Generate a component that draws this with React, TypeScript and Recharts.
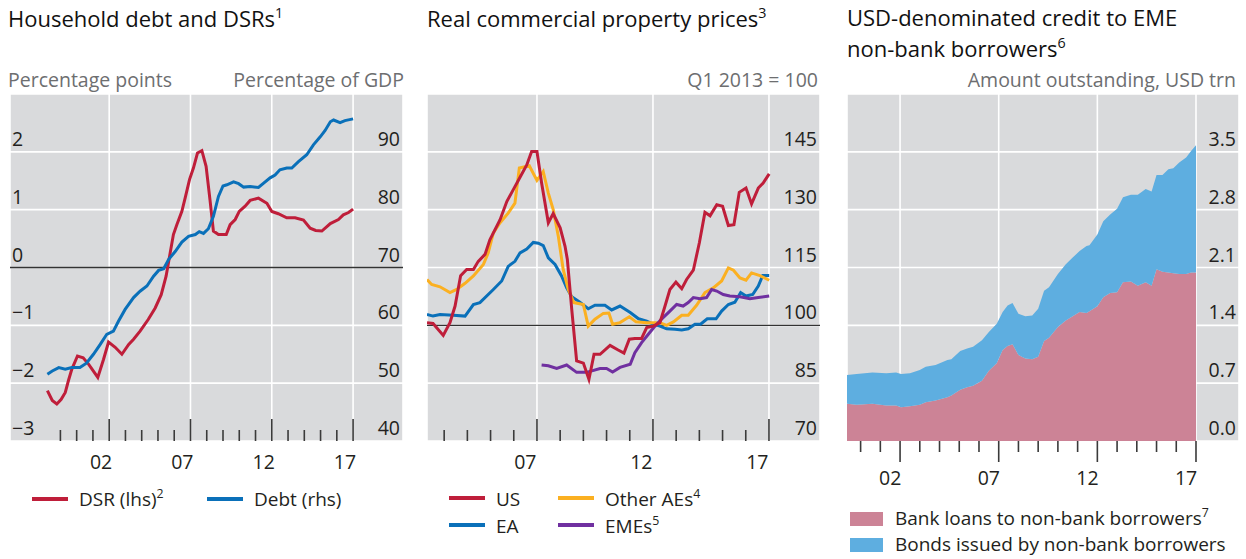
import React from 'react';
import { ComposedChart, AreaChart, Line, Area, XAxis, YAxis, CartesianGrid, ReferenceLine } from 'recharts';

const FONT = '"Open Sans", "Noto Sans", sans-serif';
const INK = '#231f20';
const SUB = '#6d6e70';
const BG = '#d9dadc';
const RED = '#bf1e3a';
const BLUE = '#0a70b9';
const ORANGE = '#fbb021';
const PURPLE = '#7030a0';
const PINK = '#cc8396';
const SKY = '#5eaee0';

// ---- panel 1: household debt and DSRs ----
const dsr = [
  [1998.2, -2.13], [1998.5, -2.3], [1998.78, -2.36], [1999.05, -2.28], [1999.3, -2.16], [1999.5, -1.95],
  [1999.7, -1.76], [2000.05, -1.53], [2000.4, -1.56], [2000.73, -1.67], [2001.03, -1.79], [2001.3, -1.9],
  [2001.65, -1.59], [2001.96, -1.29], [2002.37, -1.38], [2002.78, -1.5], [2003.2, -1.33], [2003.5, -1.24],
  [2003.9, -1.1], [2004.4, -0.9], [2004.83, -0.7], [2005.2, -0.47], [2005.5, -0.15], [2005.75, 0.25],
  [2005.95, 0.57], [2006.16, 0.74], [2006.47, 0.97], [2006.67, 1.2], [2006.94, 1.52], [2007.18, 1.72],
  [2007.43, 1.98], [2007.7, 2.02], [2007.96, 1.75], [2008.2, 1.17], [2008.41, 0.63], [2008.72, 0.57],
  [2009.2, 0.57], [2009.44, 0.74], [2009.75, 0.83], [2010.0, 0.97], [2010.36, 1.06], [2010.67, 1.16],
  [2011.18, 1.2], [2011.7, 1.11], [2012.0, 0.97], [2012.4, 0.93], [2012.92, 0.86], [2013.43, 0.86],
  [2013.95, 0.82], [2014.36, 0.68], [2014.7, 0.64], [2015.08, 0.63], [2015.6, 0.76], [2016.1, 0.83],
  [2016.4, 0.91], [2016.72, 0.95], [2017.0, 1.01],
];
const debt = [
  [1998.2, 51.55], [1998.5, 52.1], [1998.9, 52.7], [1999.3, 52.4], [1999.7, 52.7], [2000.2, 52.7],
  [2000.6, 53.45], [2001.03, 55.0], [2001.45, 56.7], [2001.85, 58.45], [2002.26, 59.0], [2002.57, 60.7],
  [2002.98, 62.75], [2003.5, 64.8], [2003.9, 65.9], [2004.32, 66.8], [2004.73, 68.5], [2005.04, 69.5],
  [2005.35, 69.8], [2005.66, 71.4], [2006.07, 72.8], [2006.47, 74.4], [2006.88, 75.4], [2007.3, 75.7],
  [2007.54, 76.2], [2007.8, 75.9], [2008.1, 76.7], [2008.41, 78.85], [2008.72, 82.3], [2009.0, 84.1],
  [2009.24, 84.3], [2009.65, 84.8], [2009.96, 84.5], [2010.27, 83.9], [2010.67, 84.0], [2011.18, 83.85],
  [2011.5, 84.6], [2011.9, 85.5], [2012.2, 86.0], [2012.5, 86.9], [2012.92, 87.2], [2013.23, 87.2],
  [2013.64, 88.3], [2014.15, 89.5], [2014.56, 91.2], [2014.98, 92.6], [2015.28, 93.7], [2015.6, 95.2],
  [2015.8, 95.5], [2016.2, 95.05], [2016.5, 95.4], [2017.0, 95.7],
];

// ---- panel 2: real commercial property prices ----
const us = [
  [2002.26, 100.7], [2002.52, 100.5], [2002.96, 97.4], [2003.25, 100.7], [2003.47, 105], [2003.71, 112.9],
  [2003.97, 114.5], [2004.26, 114.5], [2004.47, 116.6], [2004.76, 118.4], [2004.97, 122.2], [2005.41, 127.4],
  [2005.7, 132.1], [2005.98, 135.2], [2006.27, 138.4], [2006.56, 141.6], [2006.77, 145.1], [2007.0, 145.1],
  [2007.2, 136.9], [2007.49, 126.6], [2007.7, 129], [2008.0, 125.3], [2008.21, 120.5], [2008.31, 117.1],
  [2008.5, 104.1], [2008.71, 90.8], [2009.0, 90.2], [2009.24, 86.0], [2009.46, 92.5], [2009.72, 92.5],
  [2010.15, 94.8], [2010.5, 93.6], [2010.75, 92.8], [2010.98, 96.4], [2011.22, 96.6], [2011.51, 96.6],
  [2011.73, 99.4], [2012.01, 99.8], [2012.3, 100.7], [2012.52, 105], [2012.73, 109.3], [2012.99, 111.2],
  [2013.24, 109.5], [2013.45, 111.9], [2013.74, 114.3], [2014.0, 121.4], [2014.24, 129.3], [2014.46, 128.4],
  [2014.75, 131.3], [2015.0, 130.9], [2015.25, 125.9], [2015.49, 126.1], [2015.72, 134.5], [2016.01, 135.6],
  [2016.25, 131.5], [2016.54, 135.6], [2016.75, 136.9], [2017.01, 139.3],
];
const ea = [
  [2002.26, 102.8], [2002.52, 102.4], [2002.82, 102.8], [2003.39, 102.6], [2003.9, 102.4], [2004.26, 105.4],
  [2004.54, 105.9], [2005.12, 109.3], [2005.48, 111.5], [2005.76, 115.3], [2006.05, 116.6], [2006.27, 118.8],
  [2006.56, 119.8], [2006.84, 121.5], [2007.06, 121.3], [2007.27, 120.7], [2007.49, 117.5], [2007.78, 115.8],
  [2008.06, 112.8], [2008.28, 109.7], [2008.5, 107.4], [2008.85, 106], [2009.21, 104.3], [2009.5, 105.2],
  [2009.93, 105.2], [2010.22, 104], [2010.58, 105], [2011.02, 103.3], [2011.38, 101.7], [2011.73, 101.1],
  [2012.0, 100.3], [2012.3, 99.8], [2012.59, 99.1], [2012.95, 99], [2013.24, 98.8], [2013.52, 99.1],
  [2013.81, 100.3], [2014.05, 100.3], [2014.34, 101.7], [2014.72, 101.7], [2014.96, 103.7], [2015.25, 105.4],
  [2015.53, 106], [2015.78, 108.5], [2016.01, 107.6], [2016.3, 108], [2016.54, 110.2], [2016.73, 112.9],
  [2017.01, 112.9],
];
const otherAEs = [
  [2002.26, 111.9], [2002.46, 110.6], [2002.82, 110], [2003.25, 108.5], [2003.54, 109.3], [2003.9, 110.9],
  [2004.26, 112.8], [2004.69, 115.8], [2004.9, 118.8], [2005.12, 124], [2005.41, 126.6], [2005.76, 129.1],
  [2006.05, 131.7], [2006.24, 140.8], [2006.67, 141.4], [2007.0, 137.6], [2007.27, 139.9], [2007.49, 134.3],
  [2007.7, 130], [2007.92, 123.1], [2008.13, 114.5], [2008.35, 109.3], [2008.59, 105.9], [2009.0, 105.4],
  [2009.21, 99.8], [2009.5, 101.6], [2009.86, 103.1], [2010.1, 103.2], [2010.26, 100.3], [2010.58, 100.7],
  [2010.98, 102.2], [2011.27, 100.9], [2011.73, 100.7], [2012.0, 100.7], [2012.3, 100.7], [2012.59, 100],
  [2012.88, 100.9], [2013.24, 102.6], [2013.52, 102.6], [2013.88, 105.2], [2014.24, 108.5], [2014.6, 109.7],
  [2014.96, 111.5], [2015.25, 114.9], [2015.47, 114.3], [2015.75, 112.3], [2016.01, 111.7], [2016.25, 113.6],
  [2016.61, 112.9], [2017.01, 111.7],
];
const emes = [
  [2007.2, 89.7], [2007.49, 89.5], [2007.85, 88.8], [2008.28, 89.7], [2008.71, 87.8], [2009.14, 87.8],
  [2009.72, 88.8], [2010.0, 88.8], [2010.26, 87.9], [2010.58, 89.1], [2011.02, 89.9], [2011.22, 92.9],
  [2011.51, 95.5], [2011.8, 97.7], [2012.09, 99.8], [2012.37, 101.6], [2012.73, 103.7], [2013.02, 105.4],
  [2013.3, 105], [2013.52, 105.9], [2013.74, 107.2], [2014.03, 106.9], [2014.31, 107.2], [2014.53, 109.3],
  [2014.75, 108.9], [2015.03, 108], [2015.31, 107.6], [2015.75, 107.4], [2016.18, 106.9], [2016.54, 107.2],
  [2017.01, 107.6],
];

// ---- panel 3: USD credit to EME non-bank borrowers ----
const creditYears = [
  1999.31, 1999.8, 2000.6, 2001.3, 2001.8, 2002.05, 2002.5, 2003.0, 2003.3, 2003.8,
  2004.4, 2004.6, 2005.05, 2005.4, 2005.7, 2006.15, 2006.5, 2006.9, 2007.2, 2007.45,
  2007.7, 2008.0, 2008.35, 2008.7, 2009.0, 2009.3, 2009.55, 2010.0, 2010.4, 2010.75,
  2011.1, 2011.45, 2011.6, 2012.0, 2012.3, 2012.65, 2013.0, 2013.3, 2013.7, 2014.05,
  2014.45, 2014.75, 2015.0, 2015.3, 2015.6, 2015.85, 2016.15, 2016.5, 2016.75, 2017.0,
];
const bankLoans = [
  0.45, 0.44, 0.45, 0.43, 0.43, 0.41, 0.42, 0.44, 0.47, 0.49,
  0.53, 0.55, 0.62, 0.65, 0.67, 0.73, 0.85, 0.94, 1.1, 1.15,
  1.17, 1.04, 1.0, 0.99, 1.02, 1.21, 1.25, 1.38, 1.46, 1.51,
  1.56, 1.55, 1.57, 1.63, 1.74, 1.79, 1.8, 1.92, 1.93, 1.88,
  1.92, 1.88, 2.08, 2.05, 2.04, 2.03, 2.02, 2.02, 2.04, 2.04,
];
const bondsIssued = [
  0.35, 0.37, 0.38, 0.39, 0.4, 0.4, 0.4, 0.42, 0.43, 0.43,
  0.45, 0.44, 0.47, 0.47, 0.47, 0.49, 0.47, 0.48, 0.46, 0.49,
  0.5, 0.5, 0.51, 0.53, 0.58, 0.61, 0.61, 0.64, 0.68, 0.71,
  0.74, 0.81, 0.8, 0.87, 0.92, 0.95, 1.01, 1.03, 1.05, 1.1,
  1.13, 1.14, 1.14, 1.17, 1.25, 1.27, 1.35, 1.41, 1.47, 1.54,
];

const majorYears = [2002, 2007, 2012, 2017];
const dsrTicks = [-3, -2, -1, 0, 1, 2, 3];
const debtTicks = [40, 50, 60, 70, 80, 90, 100];
const priceTicks = [70, 85, 100, 115, 130, 145, 160];
const creditTicks = [0, 0.7, 1.4, 2.1, 2.8, 3.5, 4.2];

const range = (a: number, b: number) => Array.from({ length: b - a + 1 }, (_, i) => a + i);
const toPts = (arr: number[][]) => arr.map(([x, v]) => ({ x, v }));

const TOP = 94;
const PLOT_H = 347;
const AXIS_H = 70;
const CH_H = PLOT_H + AXIS_H;

// tick marks at year boundaries; the year's label sits half a year to the left
function YearTick({ x, y, payload, inside, halfYear, labelDy }: any) {
  const major = majorYears.includes(payload.value);
  const len = major ? (inside ? 22 : 21) : 11;
  return (
    <g>
      <line x1={x} x2={x} y1={inside ? y - len : y} y2={inside ? y : y + len} stroke="#3a3a3a" strokeWidth={1.6} />
      {major && (
        <text x={x - halfYear} y={y + labelDy} textAnchor="middle" fontSize={19.5} fontFamily={FONT} fill={INK}>
          {String(payload.value % 100).padStart(2, '0')}
        </text>
      )}
    </g>
  );
}

function ValueLabel({ y, payload, tx, anchor, skip, fmt }: any) {
  if (payload.value === skip) return null;
  const s = fmt ? fmt(payload.value) : String(payload.value);
  return (
    <text x={tx} y={y - 6} textAnchor={anchor} fontSize={19.5} fontFamily={FONT} fill={INK}>
      {s.replace('-', '\u2212')}
    </text>
  );
}

function XAxes({ domain, ticks, inside, labelDy, width }: any) {
  const halfYear = width / (domain[1] - domain[0]) / 2;
  return [
    <XAxis key="t" dataKey="x" type="number" domain={domain} allowDataOverflow ticks={ticks} interval={0}
      height={AXIS_H} tickSize={0} tickMargin={0} axisLine={false} tickLine={false}
      tick={<YearTick inside={inside} halfYear={halfYear} labelDy={labelDy} />} />,
    <XAxis key="g" xAxisId="grid" dataKey="x" type="number" domain={domain} allowDataOverflow ticks={majorYears} hide />,
  ];
}

function Panel1() {
  const W = 393;
  const domain = [1995.9, 2020.07];
  return (
    <div style={{ position: 'absolute', left: 10, top: TOP }}>
      <ComposedChart width={W} height={CH_H} margin={{ top: 0, right: 0, bottom: 0, left: 0 }}>
        {XAxes({ domain, ticks: range(1999, 2017), inside: true, labelDy: 28, width: W })}
        <YAxis yAxisId="l" orientation="left" mirror width={40} domain={[-3, 3]} ticks={dsrTicks} interval={0} axisLine={false}
          tickLine={false} tick={<ValueLabel tx={2} anchor="start" skip={3} />} />
        <YAxis yAxisId="r" orientation="right" mirror width={40} domain={[40, 100]} ticks={debtTicks} interval={0} axisLine={false}
          tickLine={false} tick={<ValueLabel tx={W - 3} anchor="end" skip={100} />} />
        <CartesianGrid xAxisId="grid" yAxisId="l" stroke="#fff" strokeWidth={1.6} fill={BG} fillOpacity={1} />
        <ReferenceLine yAxisId="l" y={0} stroke="#333" strokeWidth={1.3} />
        <Line yAxisId="l" data={toPts(dsr)} dataKey="v" type="linear" stroke={RED} strokeWidth={3} dot={false} isAnimationActive={false} />
        <Line yAxisId="r" data={toPts(debt)} dataKey="v" type="linear" stroke={BLUE} strokeWidth={3} dot={false} isAnimationActive={false} />
      </ComposedChart>
    </div>
  );
}

function Panel2() {
  const W = 393;
  const domain = [2002.26, 2019.2];
  const series: [number[][], string][] = [[ea, BLUE], [otherAEs, ORANGE], [emes, PURPLE], [us, RED]];
  return (
    <div style={{ position: 'absolute', left: 427, top: TOP }}>
      <ComposedChart width={W} height={CH_H} margin={{ top: 0, right: 0, bottom: 0, left: 0 }}>
        {XAxes({ domain, ticks: range(2003, 2017), inside: true, labelDy: 28, width: W })}
        <YAxis yAxisId="r" orientation="right" mirror width={40} domain={[70, 160]} ticks={priceTicks} interval={0} axisLine={false}
          tickLine={false} tick={<ValueLabel tx={W - 3} anchor="end" skip={160} />} />
        <CartesianGrid xAxisId="grid" yAxisId="r" stroke="#fff" strokeWidth={1.6} fill={BG} fillOpacity={1} />
        <ReferenceLine yAxisId="r" y={100} stroke="#333" strokeWidth={1.3} />
        {series.map(([d, c], i) => (
          <Line key={i} yAxisId="r" data={toPts(d)} dataKey="v" type="linear" stroke={c} strokeWidth={3} dot={false} isAnimationActive={false} />
        ))}
      </ComposedChart>
    </div>
  );
}

function Panel3() {
  const W = 392;
  const domain = [1999.31, 2019.18];
  const rows = creditYears.map((x, i) => ({ x, bank: bankLoans[i], bonds: bondsIssued[i] }));
  return (
    <div style={{ position: 'absolute', left: 847, top: TOP }}>
      <AreaChart width={W} height={CH_H} data={rows} margin={{ top: 0, right: 0, bottom: 0, left: 0 }}>
        {XAxes({ domain, ticks: range(2000, 2017), inside: false, labelDy: 44, width: W })}
        <YAxis orientation="right" mirror width={40} domain={[0, 4.2]} ticks={creditTicks} interval={0} axisLine={false}
          tickLine={false} tick={<ValueLabel tx={W - 3} anchor="end" skip={4.2} fmt={(v: number) => v.toFixed(1)} />} />
        <CartesianGrid xAxisId="grid" stroke="#fff" strokeWidth={1.6} fill={BG} fillOpacity={1} />
        <Area dataKey="bank" stackId="1" type="linear" stroke="none" fill={PINK} fillOpacity={1} isAnimationActive={false} />
        <Area dataKey="bonds" stackId="1" type="linear" stroke="none" fill={SKY} fillOpacity={1} isAnimationActive={false} />
      </AreaChart>
    </div>
  );
}

function T({ x, y, size = 19.5, fill = INK, anchor = 'start', children, sup }: any) {
  return (
    <text x={x} y={y} fontSize={size} fill={fill} textAnchor={anchor} fontFamily={FONT}>
      {children}
      {sup && <tspan dy={-size * 0.42} fontSize={size * 0.65}>{sup}</tspan>}
    </text>
  );
}

function Overlay() {
  return (
    <svg width={1246} height={559} style={{ position: 'absolute', left: 0, top: 0, pointerEvents: 'none' }}>
      <T x={8} y={27} size={22} fill="#111" sup="1">Household debt and DSRs</T>
      <T x={427} y={27} size={22} fill="#111" sup="3">Real commercial property prices</T>
      <T x={847} y={26} size={22} fill="#111">USD-denominated credit to EME</T>
      <T x={847} y={57} size={22} fill="#111" sup="6">non-bank borrowers</T>

      <T x={8} y={87} fill={SUB}>Percentage points</T>
      <T x={404} y={87} fill={SUB} anchor="end">Percentage of GDP</T>
      <T x={818} y={87} fill={SUB} anchor="end">Q1 2013 = 100</T>
      <T x={1236} y={87} fill={SUB} anchor="end">Amount outstanding, USD trn</T>

      <line x1={32} x2={68} y1={499} y2={499} stroke={RED} strokeWidth={4} />
      <T x={79} y={506} size={19} sup="2">DSR (lhs)</T>
      <line x1={207} x2={243} y1={499} y2={499} stroke={BLUE} strokeWidth={4} />
      <T x={254} y={506} size={19}>Debt (rhs)</T>

      <line x1={449} x2={485} y1={498} y2={498} stroke={RED} strokeWidth={4} />
      <T x={496} y={506} size={19}>US</T>
      <line x1={449} x2={485} y1={525} y2={525} stroke={BLUE} strokeWidth={4} />
      <T x={496} y={533} size={19}>EA</T>
      <line x1={558} x2={594} y1={498} y2={498} stroke={ORANGE} strokeWidth={4} />
      <T x={605} y={506} size={19} sup="4">Other AEs</T>
      <line x1={558} x2={594} y1={525} y2={525} stroke={PURPLE} strokeWidth={4} />
      <T x={605} y={533} size={19} sup="5">EMEs</T>

      <rect x={850} y={512} width={33} height={14} fill={PINK} />
      <T x={895} y={525} size={19} sup="7">Bank loans to non-bank borrowers</T>
      <rect x={850} y={538} width={33} height={14} fill={SKY} />
      <T x={895} y={551} size={19}>Bonds issued by non-bank borrowers</T>
    </svg>
  );
}

export default function App() {
  return (
    <div style={{ position: 'absolute', left: 0, top: 0, width: 1246, height: 559, background: '#fff', fontFamily: FONT }}>
      <Panel1 />
      <Panel2 />
      <Panel3 />
      <Overlay />
    </div>
  );
}
